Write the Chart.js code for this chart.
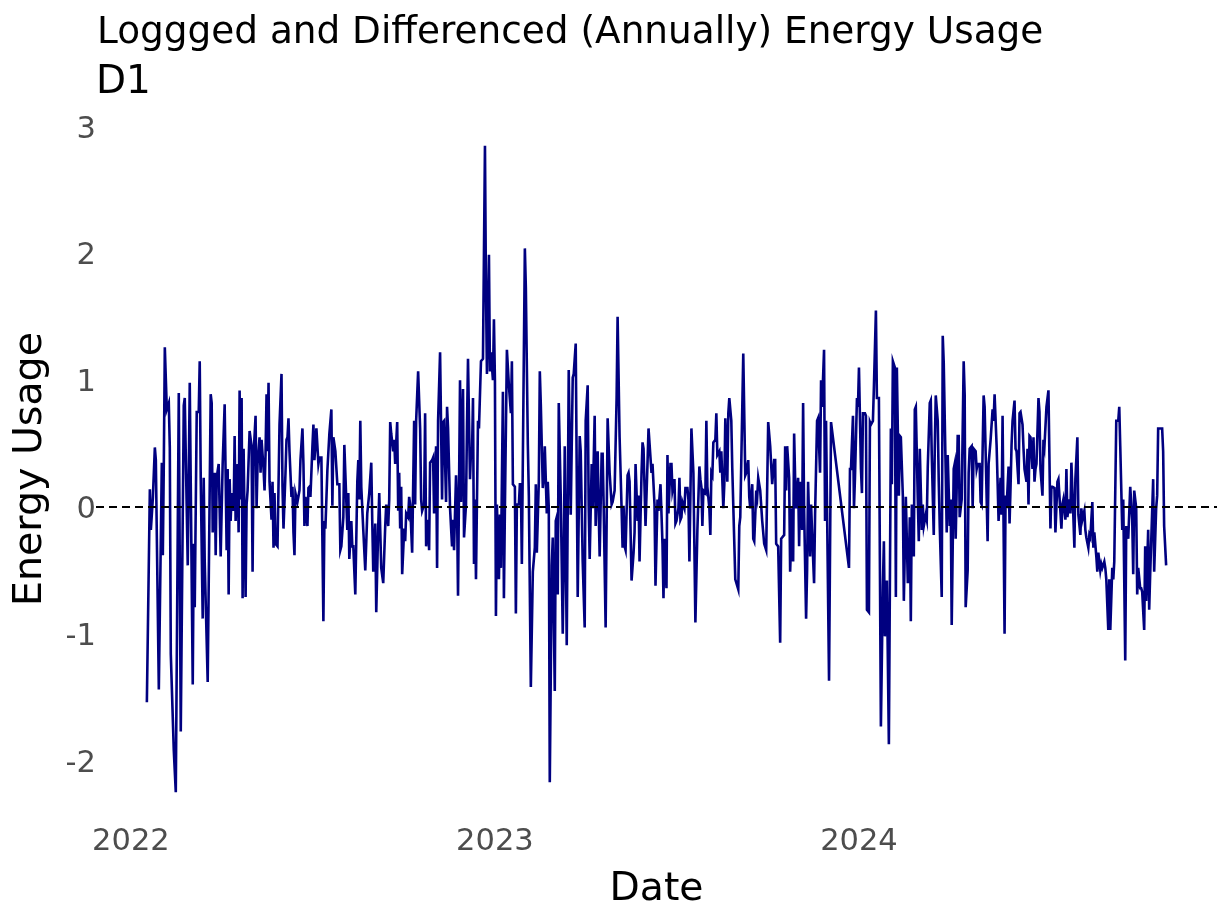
<!DOCTYPE html>
<html><head><meta charset="utf-8">
<script src="https://cdn.jsdelivr.net/npm/chart.js@4.4.1/dist/chart.umd.min.js"></script>
<style>
html,body{margin:0;padding:0;background:#fff;}
#wrap{position:relative;width:1228px;height:921px;overflow:hidden;}
#c{position:absolute;left:0;top:0;}
.t{position:absolute;font-family:'DejaVu Sans';font-size:37.4px;line-height:37px;color:#000;white-space:nowrap;}
#sub{font-size:39px;line-height:39px;}
</style></head><body>
<div id="wrap"><canvas id="c" width="1228" height="921"></canvas>
<div class="t" id="title" style="left:97px;top:12px">Loggged and Differenced (Annually) Energy Usage</div>
<div class="t" id="sub" style="left:96px;top:60px">D1</div></div>
<script>
// day index counted from 2022-01-01
const days = [
16,19,20,22,24,25,28,31,32,33,34,36,38,39,40,43,45,48,50,53,54,57,59,62,63,64,66,68,69,70,72,73,74,77,80,81,82,84,85,86,88,90,92,94,
96,97,98,99,100,101,103,104,105,107,108,109,110,111,112,113,115,116,117,119,121,122,123,125,126,127,129,130,131,133,134,135,136,137,138,139,141,142,143,144,145,147,149,151,152,153,155,156,157,158,159,161,162,163,164,165,167,169,170,172,173,174,175,177,178,
179,180,182,183,184,186,188,189,191,193,194,195,197,199,201,202,203,205,207,209,210,211,213,214,215,217,218,219,221,222,223,225,227,228,229,230,231,233,235,237,239,241,242,243,245,246,248,249,251,253,255,256,258,259,260,261,263,264,265,
267,268,269,270,271,272,274,275,276,278,279,280,282,284,285,286,288,290,291,292,294,295,296,298,299,300,302,303,304,306,307,308,310,312,313,314,316,317,318,320,322,323,324,326,327,328,330,331,332,333,334,336,337,338,340,341,342,343,344,345,346,348,349,
351,353,355,356,357,359,360,361,363,364,365,366,367,369,370,371,373,374,375,377,379,381,382,383,385,386,387,389,390,391,392,395,396,398,399,401,403,405,406,407,409,410,411,413,414,415,417,418,419,420,422,423,425,426,427,428,429,431,433,434,
435,437,439,441,443,444,446,448,450,451,453,455,456,458,459,460,462,463,465,466,468,469,470,472,473,474,476,478,480,482,483,485,487,488,490,492,493,494,495,496,498,499,500,502,504,505,506,508,509,510,512,513,514,516,518,519,
522,523,525,526,528,529,531,533,534,535,537,538,539,541,542,543,545,546,547,549,550,551,552,553,555,556,558,559,560,562,564,566,568,570,571,572,573,574,576,577,578,580,581,582,583,584,586,587,588,590,591,592,594,595,596,598,599,600,602,603,606,
609,610,611,614,616,617,619,620,621,623,624,625,627,628,629,631,633,635,637,639,641,643,645,646,647,649,651,652,653,655,656,657,658,660,661,663,664,665,666,667,669,670,671,673,674,675,677,678,679,681,682,683,685,686,688,689,691,
692,693,695,696,697,700,702,720,721,722,724,725,726,728,729,730,732,733,734,736,737,738,740,741,742,744,745,747,748,750,752,754,755,756,758,760,762,763,764,766,767,768,770,771,772,774,775,
777,779,780,781,782,783,785,786,787,789,790,791,793,794,795,797,798,799,801,802,803,805,806,807,809,810,811,813,814,815,817,818,819,821,822,823,825,826,827,829,830,831,833,835,836,837,839,840,841,843,844,845,847,848,849,851,852,853,855,856,857,859,860,
862,864,865,866,868,869,870,872,873,874,876,877,878,880,881,882,883,884,886,887,888,890,891,892,894,895,896,898,899,900,901,902,904,905,906,907,908,910,911,912,914,915,916,918,920,922,923,924,926,927,929,930,931,933,934,935,937,938,939,941,942,943,945,946,947,
949,950,952,953,954,956,957,958,960,961,962,964,965,966,968,969,970,972,973,974,976,977,978,980,981,982,984,985,986,988,990,991,992,994,995,997,998,1000,1001,1002,1004,1005,1006,1008,1009,1010,1012,1013,1014,1016,1017,1018,1020,1021,1022,1024,1025,1026,1028,1029,1030,1032,1034,1035,1036,1038
];
const usage = [
-1.54,0.14,-0.18,0.07,0.47,0.37,-1.44,0.35,-0.38,0.35,1.26,0.77,0.82,0.47,-1.16,-1.92,-2.25,0.90,-1.77,0.80,0.86,-0.46,0.98,-1.40,-0.29,-0.79,0.75,0.75,1.15,0.23,-0.88,0.23,-0.43,-1.38,0.89,0.82,-0.20,0.27,-0.38,0.23,0.34,-0.39,0.34,0.81,
-0.34,0.30,-0.69,0.22,-0.11,0.11,-0.03,0.56,-0.11,0.34,-0.20,0.92,0.06,0.86,-0.72,0.46,-0.71,0.02,0.13,0.60,0.48,-0.51,0.41,0.72,-0.01,0.34,0.55,0.27,0.53,0.30,0.13,0.42,0.89,0.44,0.98,0.20,-0.10,0.20,-0.32,0.11,-0.29,-0.31,0.65,1.05,0.16,-0.17,0.27,0.53,0.55,0.70,0.44,0.08,0.16,-0.20,-0.38,0.11,0.04,0.13,0.37,0.62,0.34,-0.15,0.08,-0.15,0.15,
0.16,0.08,0.48,0.65,0.37,0.62,0.34,0.39,0.39,-0.90,-0.11,-0.17,0.29,0.58,0.77,0.01,0.55,0.44,0.18,0.18,-0.34,-0.31,-0.08,0.49,0.27,-0.18,0.11,-0.41,-0.11,-0.31,-0.31,-0.69,0.20,0.37,0.06,0.68,0.16,-0.18,-0.50,-0.05,0.11,0.35,-0.11,-0.51,-0.13,-0.83,-0.15,0.11,-0.48,-0.60,-0.15,0.02,-0.15,0.06,0.67,0.58,0.44,0.53,0.34,
0.67,-0.03,0.27,-0.17,0.16,-0.53,-0.17,-0.27,-0.05,-0.08,0.08,0.02,-0.36,0.68,0.02,0.68,1.07,0.62,0.06,-0.03,0.02,0.74,-0.31,-0.10,-0.34,0.35,0.37,0.39,-0.05,0.48,-0.48,0.68,1.22,0.06,0.67,0.68,0.04,0.79,0.62,-0.01,-0.31,-0.10,-0.34,0.25,-0.01,-0.70,1.00,0.04,0.56,0.93,-0.24,0.02,0.65,1.17,0.22,0.44,0.42,0.86,-0.45,0.06,-0.57,0.68,0.62,
1.15,1.17,2.85,1.73,1.05,1.99,1.07,1.22,1.00,1.48,1.00,-0.86,0.02,-0.57,-0.06,-0.48,0.91,-0.72,-0.01,1.24,0.96,0.74,1.15,0.18,0.16,-0.84,0.02,0.02,0.18,0.18,-0.45,2.04,1.73,0.49,0.09,-1.42,-0.51,-0.32,0.18,-0.36,0.20,1.07,0.81,0.15,0.23,0.48,-0.05,0.20,-0.01,-2.17,-0.46,-0.24,-1.45,-0.11,-0.08,-0.69,0.82,0.08,-1.00,-0.43,
0.48,-1.09,1.08,-0.06,1.02,1.05,1.29,-0.71,0.56,0.44,-0.43,-0.95,0.68,0.96,0.01,-0.41,0.34,-0.01,0.72,-0.15,0.44,-0.01,-0.39,0.42,0.42,0.02,-0.95,0.70,0.27,0.02,0.04,0.13,0.86,1.50,0.55,-0.01,-0.32,0.01,-0.31,-0.34,0.25,0.27,0.20,-0.58,-0.36,-0.20,0.34,-0.11,0.09,-0.43,0.27,0.51,0.46,-0.15,0.35,0.62,
0.27,0.34,0.02,-0.62,0.06,-0.03,0.18,-0.29,-0.72,-0.25,-0.64,0.41,-0.05,0.34,0.34,0.13,0.22,-0.13,-0.11,-0.01,0.23,-0.10,-0.08,0.04,-0.01,0.15,0.15,0.06,-0.43,0.62,0.27,-0.91,-0.18,0.32,0.22,0.16,-0.15,0.13,0.11,0.68,0.16,-0.01,-0.22,0.27,0.25,0.51,0.53,0.74,0.41,0.44,0.27,0.44,-0.01,0.18,0.70,0.20,0.74,0.86,0.68,0.30,-0.57,
-0.65,-0.15,-0.08,1.21,0.25,0.27,0.37,0.08,-0.01,0.18,-0.25,-0.27,0.13,0.08,0.23,0.13,-0.11,-0.29,-0.34,0.67,0.48,0.18,0.37,0.37,-0.29,-0.31,-1.07,-0.25,-0.24,-0.22,0.48,0.13,0.48,0.23,-0.51,-0.01,-0.43,0.58,0.23,-0.01,0.23,-0.31,0.20,-0.18,0.82,-0.01,-0.88,-0.50,0.20,-0.39,0.02,-0.20,-0.60,-0.06,0.68,0.70,0.27,
1.00,0.79,1.24,-0.11,0.68,-1.37,0.67,-0.48,0.30,0.30,0.72,-0.01,0.23,0.86,0.79,1.10,0.30,0.11,0.74,0.74,0.72,-0.81,-0.83,0.67,0.65,0.68,0.95,1.55,0.86,0.86,-1.73,-0.62,-0.27,-1.02,-0.58,-1.87,0.62,0.18,1.15,1.10,-0.71,1.10,0.09,0.56,0.55,0.09,-0.74,
0.08,-0.60,-0.46,-0.08,-0.90,0.02,-0.39,0.77,0.79,0.06,-0.27,0.46,-0.18,0.02,-0.15,-0.06,-0.10,0.32,0.82,0.84,0.41,-0.22,0.46,0.88,0.68,0.20,-0.15,-0.71,1.35,1.14,0.27,-0.20,0.41,-0.15,0.06,-0.93,0.30,0.34,-0.25,0.56,0.56,-0.08,0.06,1.15,0.89,-0.79,-0.50,0.27,0.46,0.48,-0.01,0.46,0.44,0.30,0.34,0.34,0.04,0.02,0.88,0.79,0.44,-0.27,0.34,
0.53,0.77,0.68,0.89,0.49,0.20,-0.11,0.23,-0.06,0.72,-1.00,0.09,-0.01,0.32,-0.13,0.16,0.49,0.68,0.84,0.46,0.44,0.18,0.74,0.75,0.65,0.46,0.30,0.20,0.46,0.02,0.56,0.55,0.30,0.55,0.20,0.30,0.34,0.86,0.75,0.30,0.09,0.53,0.48,0.79,0.92,-0.17,0.16,0.16,0.15,-0.20,0.20,0.22,0.09,-0.17,0.02,0.06,-0.10,0.30,-0.08,0.06,-0.05,0.35,-0.08,-0.32,0.22,
0.55,-0.06,-0.22,-0.01,-0.10,-0.03,-0.18,-0.24,-0.32,-0.22,-0.24,0.04,-0.32,-0.20,-0.39,-0.51,-0.36,-0.50,-0.45,-0.48,-0.43,-0.48,-0.57,-0.97,-0.57,-0.97,-0.48,-0.57,-0.43,0.68,0.68,0.79,0.48,-0.18,0.06,-1.21,-0.15,-0.25,-0.05,0.16,-0.10,-0.53,0.13,-0.01,-0.69,-0.48,-0.64,-0.64,-0.67,-0.97,-0.31,-0.74,-0.18,-0.81,-0.53,-0.03,0.22,-0.51,-0.01,0.09,0.62,0.62,0.62,0.44,-0.15,-0.46
];
const yearTicks = [0, 365, 730];          // 2022-01-01, 2023-01-01, 2024-01-01
const yearLabels = ['2022', '2023', '2024'];
const yTicks = [-2, -1, 0, 1, 2, 3];
const refLine = 0;
const xRange = [-35, 1089];
const yRange = [-2.5, 3.1];

if (days.length !== usage.length) console.error('length mismatch', days.length, usage.length);

const FONT = 'DejaVu Sans';
const series = days.map((d, i) => ({ x: d, y: usage[i] }));

new Chart(document.getElementById('c'), {
  type: 'line',
  data: {
    datasets: [
      { label: 'ref', data: [{ x: xRange[0], y: refLine }, { x: xRange[1], y: refLine }],
        borderColor: '#000000', borderWidth: 2, borderDash: [8, 5], pointRadius: 0, order: 0 },
      { label: 'D1', data: series, borderColor: '#000080', borderWidth: 2.6,
        pointRadius: 0, tension: 0, order: 1 }
    ]
  },
  options: {
    responsive: false,
    animation: false,
    devicePixelRatio: 1,
    layout: { padding: { top: 114, right: 11, left: 0, bottom: 0 } },
    plugins: { legend: { display: false }, tooltip: { enabled: false }, title: { display: false } },
    scales: {
      x: {
        type: 'linear', min: xRange[0], max: xRange[1],
        grid: { display: false, drawTicks: false }, border: { display: false },
        afterBuildTicks: (s) => { s.ticks = yearTicks.map(v => ({ value: v })); },
        afterFit: (s) => { s.height = 97; },
        ticks: {
          callback: (v) => { const k = yearTicks.indexOf(v); return k >= 0 ? yearLabels[k] : ''; },
          color: '#4D4D4D', font: { family: FONT, size: 30.5 }, padding: 0,
          maxRotation: 0, autoSkip: false
        },
        title: { display: true, text: 'Date', color: '#000000',
          font: { family: FONT, size: 39.3 }, padding: { top: 0, bottom: 8 } }
      },
      y: {
        min: yRange[0], max: yRange[1],
        grid: { display: false, drawTicks: false }, border: { display: false },
        afterBuildTicks: (s) => { s.ticks = yTicks.map(v => ({ value: v })); },
        afterFit: (s) => { s.width = 96; },
        ticks: {
          callback: (v) => String(v),
          color: '#4D4D4D', font: { family: FONT, size: 30.5 }, padding: 0, labelOffset: 3
        },
        title: { display: true, text: 'Energy Usage', color: '#000000',
          font: { family: FONT, size: 39.5 }, padding: { top: 7, bottom: 0 } }
      }
    }
  }
});
</script>
</body></html>
